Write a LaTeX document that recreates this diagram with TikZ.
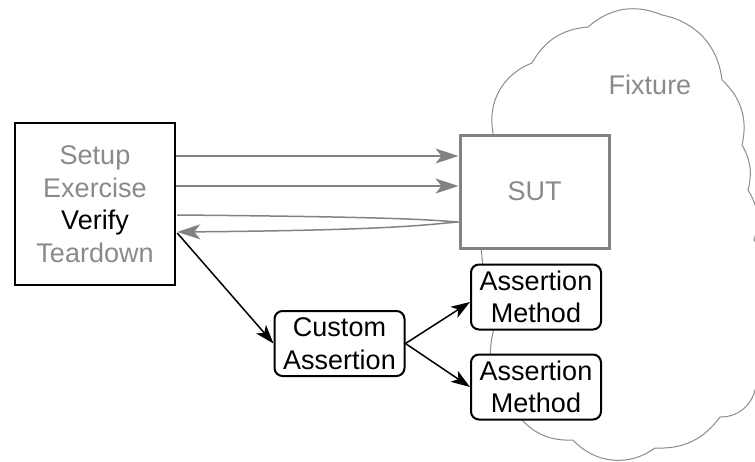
\documentclass[tikz,border=0pt]{standalone}
\usepackage{fontspec}
\setmainfont{Liberation Sans}
\usetikzlibrary{arrows.meta}
\definecolor{txtgray}{HTML}{8A8A8A}
\definecolor{linegray}{HTML}{828282}
\definecolor{cloudgray}{HTML}{8C8C8C}
\begin{document}
\begin{tikzpicture}[x=1pt,y=1pt,
  lbl/.style={font=\fontsize{27}{32.5}\selectfont, align=center, inner sep=0pt},
  phasebox/.style={lbl, draw=black, line width=2.5pt, fill=white,
    minimum width=160pt, minimum height=162pt},
  sutbox/.style={lbl, draw=linegray, line width=3pt, fill=white, text=txtgray,
    minimum width=149pt, minimum height=113pt},
  helperbox/.style={lbl, draw=black, line width=2pt, fill=white, rounded corners=8pt,
    minimum width=130pt, minimum height=65pt},
  callarrow/.style={draw=linegray, line width=1.5pt,
    -{Stealth[length=23pt,width=15pt,inset=6pt]}},
  assertarrow/.style={draw=black, line width=1.5pt,
    -{Stealth[length=19pt,width=13pt,inset=5pt]}},
  cloudline/.style={draw=cloudgray, line width=1pt}
]
\useasboundingbox (0,0) rectangle (755,-461);

% fixture cloud
\begin{scope}
\clip (0,0) rectangle (755,-461);
\draw[cloudline, fill=white]
  (493,-133) to[bend left=40] (532,-63)
  to[bend left=28] (588,-27)
  to[bend left=32] (662,-15)
  to[bend left=36] (722,-80)
  to[bend left=30] (742,-145)
  to[bend left=22] (748,-190)
  to[bend left=25] (754,-240)
  to[bend left=35] (755,-390)
  to[bend left=38] (720,-417)
  to[bend left=28] (655,-448)
  to[bend left=42] (573,-440)
  to[bend left=25] (520,-418)
  to[bend left=32] (495,-325)
  to[bend left=14] cycle;
\end{scope}
\node[lbl, text=txtgray] (fixture) at (650,-85) {Fixture};

% test phases and system under test
\node[phasebox] (phases) at (95,-204)
  {\textcolor{txtgray}{Setup}\\\textcolor{txtgray}{Exercise}\\Verify\\\textcolor{txtgray}{Teardown}};
\node[sutbox] (sut) at (534.5,-191.5) {SUT};

% assertion helpers
\node[helperbox] (custom) at (339.5,-343.5) {Custom\\Assertion};
\node[helperbox] (am1) at (536,-297) {Assertion\\Method};
\node[helperbox] (am2) at (536,-387) {Assertion\\Method};

% calls to the SUT
\draw[callarrow] ([yshift=48pt]phases.east) -- ([yshift=35.5pt]sut.west);
\draw[callarrow] ([yshift=18pt]phases.east) -- ([yshift=5.5pt]sut.west);
\coordinate (rettip) at ([yshift=-30.5pt]sut.west);
\draw[callarrow] ([xshift=1pt,yshift=-11pt]phases.east)
  .. controls +(230,-2) and +(-30,2) .. (rettip)
  .. controls +(-30,-2) and +(230,2) .. ([xshift=1pt,yshift=-28pt]phases.east);

% verification calls
\draw[assertarrow] ([xshift=1pt,yshift=-29pt]phases.east) -- (custom.west);
\draw[assertarrow] (custom.east) -- ([yshift=-5pt]am1.west);
\draw[assertarrow] (custom.east) -- (am2.west);
\end{tikzpicture}
\end{document}
